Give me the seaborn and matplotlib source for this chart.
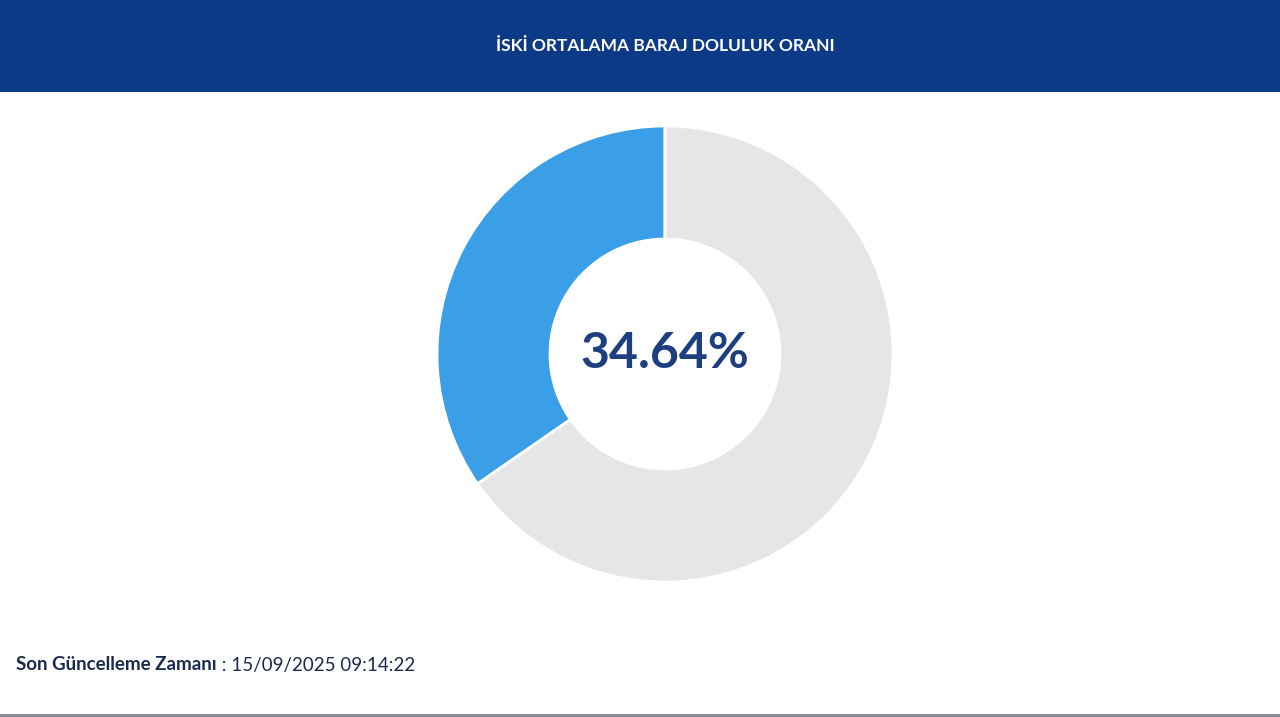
import matplotlib
matplotlib.use("Agg")
import matplotlib.pyplot as plt
import seaborn as sns
from matplotlib.patches import Rectangle

sns.set_theme(style="white")
plt.rcParams['font.family'] = ['Lato', 'DejaVu Sans']

labels = ["Dolu", "Boş"]
values = [34.64, 65.36]
colors = ["#3a9fe6", "#e6e5e8"]
title = "İSKİ ORTALAMA BARAJ DOLULUK ORANI"
center_label = "34.64%"
footer_bold = "Son Güncelleme Zamanı"
footer_rest = " : 15/09/2025 09:14:22"

W, H = 1280, 717
fig = plt.figure(figsize=(W/100, H/100), dpi=100)
fig.patch.set_facecolor("white")

# header band
fig.patches.append(Rectangle((0, (H-92)/H), 1, 92/H, transform=fig.transFigure,
                             facecolor="#0d3a87", edgecolor="none", zorder=0))
fig.text(665/W, 1-46/H, title, color="white", fontsize=12.5, fontweight="bold",
         ha="center", va="center")
# bottom line
fig.patches.append(Rectangle((0, 0), 1, 3/H, transform=fig.transFigure,
                             facecolor="#8a9099", edgecolor="none"))

cx, cy, r = 665, 354, 228
ax = fig.add_axes([(cx-r)/W, (H-cy-r)/H, 2*r/W, 2*r/H])
ax.pie(values, colors=colors, startangle=90, counterclock=True, radius=1,
       wedgeprops=dict(width=1-115/228, edgecolor="white", linewidth=2))
ax.set_xlim(-1, 1); ax.set_ylim(-1, 1)
ax.set_aspect("equal")
ax.axis("off")
ax.text(0, 0, center_label, ha="center", va="center", fontsize=36,
        fontweight="bold", color="#1d3f80")

t1 = fig.text(16/W, 1-665/H, footer_bold, fontsize=13.5, fontweight="bold",
              color="#1a2b4f", ha="left", va="center")
fig.canvas.draw()
bb = t1.get_window_extent()
fig.text(bb.x1/W, 1-665/H, footer_rest, fontsize=13.5, color="#1a2b4f",
         ha="left", va="center")

fig.savefig("out.png", dpi=100, facecolor="white")
